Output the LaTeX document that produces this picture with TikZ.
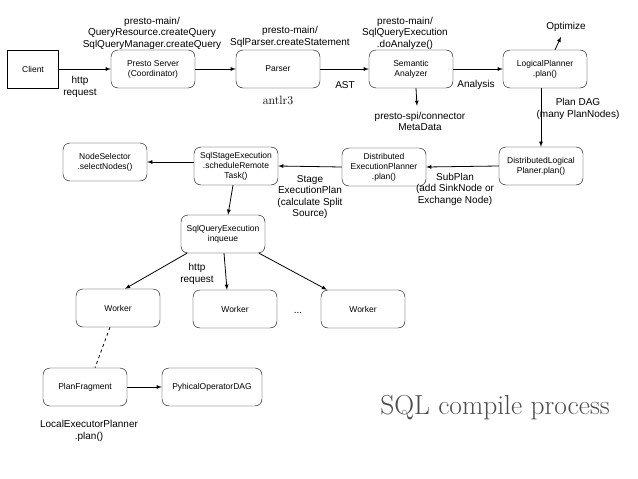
\documentclass[tikz,border=0pt]{standalone}
\usepackage{fontspec}
\setsansfont{Liberation Sans}
\usetikzlibrary{shapes,arrows}
\tikzstyle{box} = [rectangle, rounded corners=7pt, draw=black, align=center, minimum width=84pt, minimum height=38pt,
,inner sep=0.5ex,font=\sffamily\fontsize{8.5}{10}\selectfont]
\tikzstyle{lbl} = [align=center, inner sep=0pt, font=\sffamily\fontsize{10}{11.5}\selectfont]
\tikzstyle{arrow} = [line width=0.8pt,->,>=latex]

\begin{document}
\begin{tikzpicture}[x=1pt,y=-1pt]
                        \useasboundingbox (0,0) rectangle (638,479);
                        \node[draw,rectangle,minimum width=51pt,minimum height=38pt,
                            inner sep=0.5ex,font=\sffamily\fontsize{8.5}{10}\selectfont] (client) at (33,69) {Client};
                        \node[box] (server) at (153,69) {Presto Server \\ (Coordinator)};
                        \node[box] (parser) at (278,69) {Parser};
                        \node[box] (analyzer) at (411,69) {Semantic \\ Analyzer};
                        \node[box] (logical) at (545,69) {LogicalPlanner \\ .plan()};
                        \node[box] (dlogical) at (541,166) {DistributedLogical \\ Planer.plan()};
                        \node[box] (dexec) at (384,167) {Distributed \\ ExecutionPlanner \\ .plan()};
                        \node[box] (stage) at (236,166) {SqlStageExecution \\ .scheduleRemote \\ Task()};
                        \node[box] (selector) at (105,162) {NodeSelector \\ .selectNodes()};
                        \node[box] (query) at (223,234) {SqlQueryExecution \\ inqueue};
                        \node[box] (worker1) at (118,308) {Worker};
                        \node[box] (worker2) at (235,309) {Worker};
                        \node[box] (worker3) at (363,309) {Worker};
                        \node[box] (fragment) at (85,387) {PlanFragment};
                        \node[box,minimum width=100pt] (operator) at (212,387) {PyhicalOperatorDAG};

                        \node[lbl] (serverlbl) at (152,33) {presto-main/ \\ QueryResource.createQuery \\ SqlQueryManager.createQuery};
                        \node[lbl] (parserlbl) at (290,37) {presto-main/ \\ SqlParser.createStatement};
                        \node[lbl] (analyzerlbl) at (405,33) {presto-main/ \\ SqlQueryExecution \\ .doAnalyze()};
                        \node[lbl] (http) at (80,87) {http \\ request};
                        \node[lbl] (ast) at (345,85) {AST};
                        \node[lbl] (analysis) at (476,85) {Analysis};
                        \node[lbl] (optimize) at (566,27) {Optimize};
                        \node[lbl] (meta) at (420,121.5) {presto-spi/connector \\ MetaData};
                        \node[lbl] (plandag) at (578,109) {Plan DAG \\ (many PlanNodes)};
                        \node[lbl] (subplan) at (455,189) {SubPlan \\ (add SinkNode or \\ Exchange Node)};
                        \node[lbl] (stageplan) at (310,197) {Stage \\ ExecutionPlan \\ (calculate Split \\ Source)};
                        \node[lbl] (workerhttp) at (197,274) {http \\ request};
                        \node[lbl] (dots) at (298,313) {...};
                        \node[lbl] (local) at (89,431) {LocalExecutorPlanner \\ .plan()};
                        \node[inner sep=0pt,font=\fontsize{12}{14}\selectfont] (antlr) at (278,100) {antlr3};
                        \node[inner sep=0pt,text=black!70,font=\fontsize{27.5}{32}\selectfont] (title) at (495,408) {SQL compile process};

                        \draw[arrow] (client) -- (server);
                        \draw[arrow] (server) -- (parser);
                        \draw[arrow] (parser) -- (analyzer);
                        \draw[arrow] (analyzer) -- (logical);
                        \draw[arrow] ([xshift=10pt]logical.north) -- ([xshift=-5pt,yshift=-5pt]optimize.south);
                        \draw[arrow] ([xshift=5pt]analyzer.south) -- ([xshift=-3pt,yshift=6pt]meta.north);
                        \draw[arrow] (dlogical.north |- logical.south) -- (dlogical.north);
                        \draw[arrow] (dlogical.west) -- (dexec.east);
                        \draw[arrow] (dexec.west) -- (stage.east);
                        \draw[arrow] (stage.west |- selector) -- (selector.east);
                        \draw[arrow] ([xshift=-3pt]stage.south) -- ([xshift=5pt]query.north);
                        \draw[arrow] ([xshift=-36pt]query.south) -- ([xshift=7pt]worker1.north);
                        \draw[arrow] ([xshift=1pt]query.south) -- ([xshift=-8pt]worker2.north);
                        \draw[arrow] ([xshift=36pt]query.south) -- ([xshift=-36pt]worker3.north);
                        \draw[line width=0.8pt,dashed] ([xshift=-8pt]worker1.south) -- ([xshift=10pt]fragment.north);
                        \draw[arrow] (fragment) -- (operator);
                    \end{tikzpicture}
\end{document}
